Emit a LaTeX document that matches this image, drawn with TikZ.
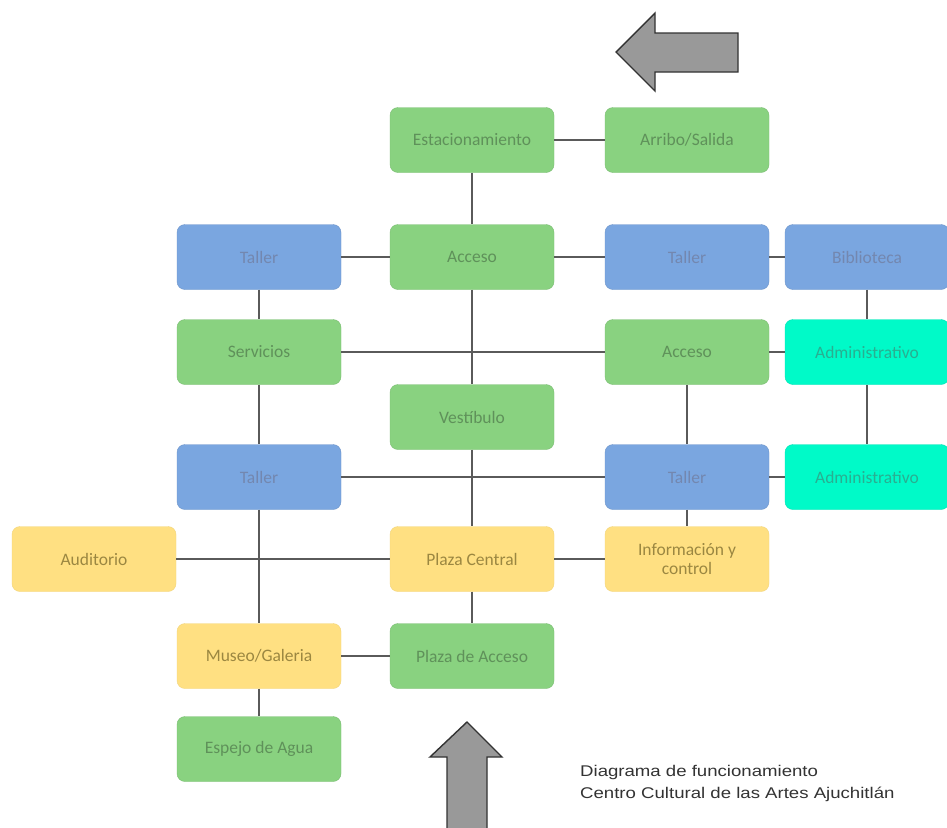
\documentclass[tikz,border=0pt]{standalone}
\usepackage{fontspec}
\setmainfont{Carlito}
\newfontfamily\capfont[FakeStretch=1.2]{Liberation Sans}
\definecolor{gbox}{RGB}{137,210,128}
\definecolor{gtxt}{RGB}{95,145,90}
\definecolor{bbox}{RGB}{122,166,224}
\definecolor{btxt}{RGB}{115,135,175}
\definecolor{cbox}{RGB}{0,250,200}
\definecolor{ctxt}{RGB}{40,175,145}
\definecolor{ybox}{RGB}{255,224,130}
\definecolor{ytxt}{RGB}{155,135,65}
\definecolor{lnk}{RGB}{90,90,90}
\tikzset{
  box/.style={rectangle, rounded corners=8pt, minimum width=164pt, minimum height=65pt,
    inner sep=2pt, align=center, font=\fontsize{17.5}{19}\selectfont},
  gbx/.style={box, fill=gbox, draw=gbox!90!black, line width=0.4pt, text=gtxt},
  bbx/.style={box, fill=bbox, draw=bbox!90!black, line width=0.4pt, text=btxt},
  cbx/.style={box, fill=cbox, draw=cbox!90!black, line width=0.4pt, text=ctxt},
  ybx/.style={box, fill=ybox, draw=ybox!95!black, line width=0.4pt, text=ytxt},
  link/.style={draw=lnk, line width=1.2pt},
  blockarrow/.style={fill=black!40, draw=black!80, line width=1.4pt, line join=miter}
}
\begin{document}
\begin{tikzpicture}[x=1pt,y=-1pt]
\useasboundingbox (0,0) rectangle (947,827);
\fill[white] (0,0) rectangle (947,827);
% block arrows
\draw[blockarrow] (616,52) -- (655,13) -- (655,33) -- (738,33) -- (738,72) -- (655,72) -- (655,91) -- cycle;
\draw[blockarrow] (467,722) -- (502,757) -- (487,757) -- (487,830) -- (447,830) -- (447,757) -- (430,757) -- cycle;
% nodes
\node[gbx] (est) at (472,140) {Estacionamiento};
\node[gbx] (arr) at (687,140) {Arribo/Salida};
\node[bbx] (tl1) at (259,257) {Taller};
\node[gbx] (acc) at (472,257) {Acceso};
\node[bbx] (tr1) at (687,257) {Taller};
\node[bbx] (bib) at (867,257) {Biblioteca};
\node[gbx] (ser) at (259,352) {Servicios};
\node[gbx] (accr) at (687,352) {Acceso};
\node[cbx] (adm1) at (867,352) {Administrativo};
\node[gbx] (ves) at (472,417) {Vestíbulo};
\node[bbx] (tl3) at (259,477) {Taller};
\node[bbx] (tr3) at (687,477) {Taller};
\node[cbx] (adm2) at (867,477) {Administrativo};
\node[ybx] (aud) at (94,559) {Auditorio};
\node[ybx] (pc) at (472,559) {Plaza Central};
\node[ybx] (inf) at (687,559) {Información y\\control};
\node[ybx] (mus) at (259,656) {Museo/Galeria};
\node[gbx] (pa) at (472,656) {Plaza de Acceso};
\node[gbx] (esp) at (259,749) {Espejo de Agua};
% connectors
\path[link] (est) -- (arr);
\path[link] (est) -- (acc);
\path[link] (acc) -- (ves);
\path[link] (ves) -- (pc);
\path[link] (pc) -- (pa);
\path[link] (tl1) -- (acc);
\path[link] (acc) -- (tr1);
\path[link] (tr1) -- (bib);
\path[link] (tl1) -- (ser);
\path[link] (ser) -- (tl3);
\path[link] (tl3) -- (mus);
\path[link] (mus) -- (esp);
\path[link] (ser) -- (accr);
\path[link] (accr) -- (adm1);
\path[link] (bib) -- (adm1);
\path[link] (adm1) -- (adm2);
\path[link] (accr) -- (tr3);
\path[link] (tl3) -- (tr3);
\path[link] (tr3) -- (adm2);
\path[link] (tr3) -- (inf);
\path[link] (aud) -- (pc);
\path[link] (pc) -- (inf);
\path[link] (mus) -- (pa);
% caption
\node[anchor=north west, inner sep=0pt, align=left, text=black!80,
  font=\capfont\fontsize{15.5}{22}\selectfont] (cap) at (580,765)
  {Diagrama de funcionamiento\\Centro Cultural de las Artes Ajuchitlán};
\end{tikzpicture}
\end{document}
